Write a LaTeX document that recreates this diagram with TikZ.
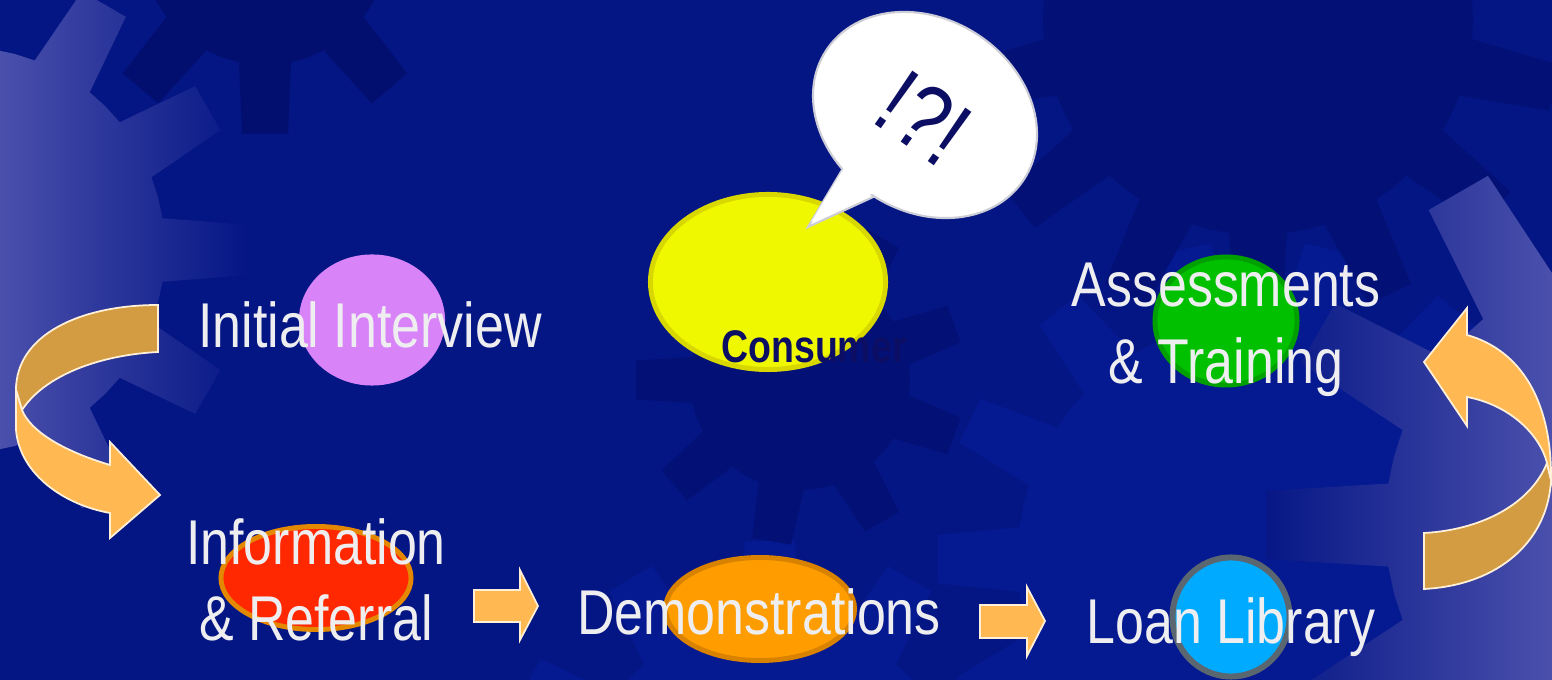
\documentclass[tikz,border=0pt]{standalone}
\usepackage{fontspec}
\setmainfont{Liberation Sans}
\newfontfamily\narrowfont[FakeStretch=0.82]{Liberation Sans}
\usetikzlibrary{shapes.geometric}

\definecolor{bgblue}{RGB}{4,21,132}
\definecolor{darkgear}{RGB}{2,15,110}
\definecolor{dimgear}{RGB}{3,17,118}
\definecolor{palegear}{RGB}{5,25,145}
\definecolor{lightgear}{RGB}{74,80,172}
\definecolor{arrowfront}{RGB}{255,184,82}
\definecolor{arrowback}{RGB}{212,156,66}
\definecolor{arrowedge}{RGB}{255,240,215}
\definecolor{labelwhite}{RGB}{238,238,240}
\definecolor{inknavy}{RGB}{12,14,100}
\definecolor{interviewpink}{RGB}{216,132,248}
\definecolor{consumeryellow}{RGB}{240,248,0}
\definecolor{consumeredge}{RGB}{216,216,0}
\definecolor{trainingfill}{RGB}{0,192,0}
\definecolor{trainingedge}{RGB}{0,160,0}
\definecolor{referralfill}{RGB}{255,40,0}
\definecolor{referraledge}{RGB}{228,136,0}
\definecolor{demofill}{RGB}{255,156,0}
\definecolor{demoedge}{RGB}{216,130,0}
\definecolor{loanfill}{RGB}{0,170,255}
\definecolor{loanedge}{RGB}{90,102,112}
\definecolor{bubbleedge}{RGB}{205,205,215}

\newcommand{\gearpt}[5]{({#1+#3*cos(#5)},{#2+#3*sin(#5)})}
\newcommand{\gearpath}[6]{\gearpt{#1}{#2}{#3}{}{#6-180/#5}
  \foreach \k in {1,...,#5}{
    -- \gearpt{#1}{#2}{#3}{}{#6+(\k-1.3)*360/#5}
    -- \gearpt{#1}{#2}{#4}{}{#6+(\k-1.17)*360/#5}
    -- \gearpt{#1}{#2}{#4}{}{#6+(\k-0.83)*360/#5}
    -- \gearpt{#1}{#2}{#3}{}{#6+(\k-0.7)*360/#5}
    -- \gearpt{#1}{#2}{#3}{}{#6+(\k-0.5)*360/#5}
  } -- cycle}

\begin{document}
\begin{tikzpicture}[x=0.01cm, y=-0.01cm,
    blob/.style={ellipse, inner sep=0pt, line width=1.4pt},
    steplabel/.style={text=labelwhite, font=\narrowfont\fontsize{18}{21.8}\selectfont, align=center, inner sep=0pt},
    blockarrow/.style={fill=arrowfront, draw=arrowedge, line width=0.5pt},
    ribbonback/.style={fill=arrowback, draw=arrowedge, line width=0.5pt}]
        \useasboundingbox (0,0) rectangle (1552,680);
        \clip (0,0) rectangle (1552,680);
        \fill[bgblue] (0,0) rectangle (1552,680);
        \fill[palegear] \gearpath{770}{820}{200}{280}{12}{-90};
        \fill[palegear] \gearpath{1257}{560}{240}{320}{14}{-77};
        \fill[dimgear] \gearpath{800}{380}{110}{165}{9}{-20};
        \fill[dimgear] \gearpath{1258}{20}{215}{305}{14}{90};
        \fill[darkgear] \gearpath{265}{-60}{125}{195}{9}{90};
        \begin{scope}
            \clip \gearpath{-38}{250}{203}{285}{12}{0};
            \shade[left color=lightgear, right color=bgblue] (0,0) rectangle (250,680);
        \end{scope}
        \begin{scope}
            \clip \gearpath{1650}{525}{265}{385}{12}{180};
            \shade[left color=bgblue, right color=lightgear] (1255,0) rectangle (1552,680);
        \end{scope}

        \node[blob, fill=interviewpink, minimum width=1.46cm, minimum height=1.31cm] (interviewblob) at (372,320) {};
        \node[blob, fill=consumeryellow, draw=consumeredge, minimum width=2.35cm, minimum height=1.75cm] (consumerblob) at (768,282) {};
        \node[blob, fill=trainingfill, draw=trainingedge, minimum width=1.42cm, minimum height=1.28cm] (trainingblob) at (1226,321) {};
        \node[blob, fill=referralfill, draw=referraledge, minimum width=1.9cm, minimum height=1.03cm] (referralblob) at (316,578) {};
        \node[blob, fill=demofill, draw=demoedge, minimum width=1.89cm, minimum height=1.03cm] (demoblob) at (760,609) {};
        \node[blob, fill=loanfill, draw=loanedge, line width=1.7pt, minimum width=1.17cm, minimum height=1.19cm] (loanblob) at (1231,617) {};

        \coordinate (tailtip) at (808,227);
        \filldraw[fill=white, draw=bubbleedge, line width=0.6pt] (848,160) -- (tailtip) -- (884,192) -- cycle;
        \node[ellipse, fill=white, draw=bubbleedge, line width=0.6pt, inner sep=0pt, minimum width=2.36cm, minimum height=1.92cm, rotate=-33] (bubble) at (925,115) {};
        \fill[white] (850,158) -- (811,222) -- (880,190) -- cycle;
        \node[rotate=-35, text=inknavy, font=\narrowfont\fontsize{27}{30}\selectfont, inner sep=0pt] (exclaim) at (924,118) {!?!};

        \node[steplabel] (interview) at (370,325) {Initial Interview};
        \node[text=inknavy, font=\narrowfont\bfseries\fontsize{13}{15}\selectfont, inner sep=0pt] (consumer) at (814,347) {Consumer};
        \node[steplabel] (training) at (1226,330) {Assessments\\\& Training};
        \node[steplabel] (referral) at (316,580) {Information\\\& Referral};
        \node[steplabel] (demo) at (759,612) {Demonstrations};
        \node[steplabel] (loan) at (1231,627) {Loan Library};

        \draw[blockarrow] (474,590) -- (520,590) -- (520,570) -- (538,606) -- (520,640) -- (520,622) -- (474,622) -- cycle;
        \draw[blockarrow] (980,605) -- (1027,605) -- (1027,587) -- (1045,621) -- (1027,656) -- (1027,638) -- (980,638) -- cycle;

        \draw[ribbonback] (158,305) .. controls (80,305) and (16,335) .. (16,390) -- (22,410) .. controls (45,375) and (100,355) .. (158,352) -- cycle;
        \draw[blockarrow] (16,390) -- (16,430) .. controls (20,475) and (65,505) .. (110,513) -- (110,538) -- (160,495) -- (110,442) -- (110,465) .. controls (60,450) and (30,430) .. (22,410) -- cycle;
        \draw[ribbonback] (1424,533) .. controls (1480,530) and (1530,505) .. (1547,463) -- (1551,480) .. controls (1548,540) and (1500,585) .. (1424,589) -- cycle;
        \draw[blockarrow] (1424,362) -- (1467,308) -- (1467,335) .. controls (1520,350) and (1552,400) .. (1551,480) -- (1547,463) .. controls (1540,435) and (1510,405) .. (1467,397) -- (1467,426) -- cycle;
    \end{tikzpicture}
\end{document}
